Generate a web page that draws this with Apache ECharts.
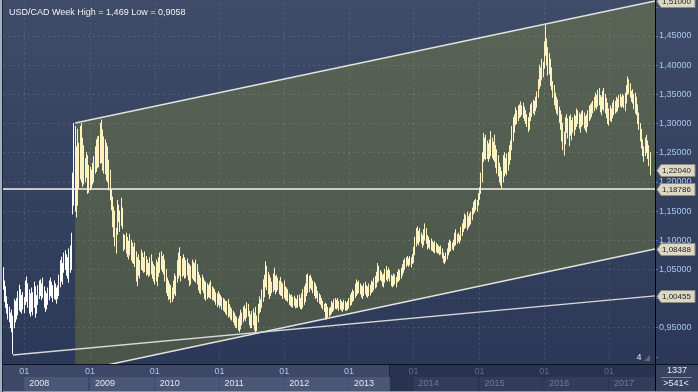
<!DOCTYPE html>
<html><head><meta charset="utf-8">
<script src="https://cdn.jsdelivr.net/npm/echarts@6/dist/echarts.min.js"></script>
<style>
html,body{margin:0;padding:0;}
body{width:698px;height:392px;overflow:hidden;background:linear-gradient(to bottom,#3f4c68 0px,#2b3857 365px,#2b3857 392px);}
#chart{width:698px;height:392px;}
</style></head><body><div id="chart"></div>
<script>
const FONT = '"Liberation Sans", Arial, sans-serif';
const axisStart = '2007-09-05';
const weekCount = 525;

const highs = [
1.053,1.030,1.020,1.003,0.990,0.985,0.975,0.980,0.970,0.998,
0.995,1.000,1.012,1.023,1.015,1.005,1.010,1.002,1.030,1.037,
1.025,1.015,1.008,1.018,1.010,1.028,1.020,1.005,1.022,1.030,
1.032,1.025,1.035,1.020,1.012,1.008,1.018,1.030,1.035,1.028,
1.022,1.030,1.025,1.018,1.022,1.040,1.065,1.071,1.060,1.078,
1.082,1.075,1.070,1.085,1.090,1.112,1.215,1.300,1.295,1.260,
1.290,1.266,1.295,1.300,1.275,1.262,1.240,1.250,1.245,1.228,
1.225,1.220,1.232,1.243,1.260,1.272,1.277,1.278,1.300,1.306,
1.289,1.277,1.272,1.266,1.260,1.237,1.220,1.186,1.174,1.157,
1.150,1.120,1.168,1.160,1.150,1.172,1.155,1.110,1.108,1.112,
1.105,1.098,1.110,1.100,1.095,1.088,1.095,1.080,1.070,1.075,
1.065,1.083,1.078,1.070,1.080,1.072,1.066,1.060,1.070,1.075,
1.063,1.058,1.055,1.066,1.062,1.070,1.078,1.080,1.072,1.075,
1.066,1.050,1.035,1.030,1.025,1.022,1.018,1.030,1.042,1.038,
1.065,1.078,1.087,1.072,1.068,1.075,1.070,1.065,1.068,1.060,
1.058,1.055,1.066,1.062,1.060,1.066,1.058,1.045,1.040,1.035,
1.040,1.035,1.030,1.028,1.025,1.022,1.026,1.030,1.020,1.018,
1.015,1.010,1.008,1.012,1.008,1.005,1.002,1.000,0.998,0.995,
0.995,0.998,0.990,0.985,0.982,0.978,0.975,0.970,0.968,0.965,
0.970,0.980,0.975,0.985,0.988,0.982,0.993,0.990,0.978,0.972,
0.978,0.982,0.975,0.985,0.970,0.990,1.003,0.998,1.015,1.032,
1.040,1.063,1.055,1.045,1.040,1.035,1.028,1.042,1.052,1.038,
1.040,1.035,1.030,1.036,1.028,1.025,1.030,1.020,1.018,1.015,
1.008,1.005,1.006,1.002,1.004,1.000,0.998,1.005,1.006,1.000,
1.008,1.015,1.020,1.025,1.040,1.042,1.038,1.040,1.035,1.030,
1.028,1.025,1.020,1.012,1.008,1.005,1.000,0.995,0.990,0.992,
0.990,0.985,0.983,0.985,0.995,0.992,0.998,1.000,0.997,1.000,
0.995,0.998,0.995,0.993,0.997,0.995,0.992,0.995,1.000,1.006,
1.010,1.015,1.012,1.025,1.032,1.028,1.030,1.025,1.022,1.020,
1.025,1.028,1.022,1.020,1.025,1.023,1.030,1.028,1.035,1.038,
1.045,1.060,1.055,1.048,1.045,1.040,1.042,1.050,1.055,1.048,
1.052,1.048,1.040,1.038,1.042,1.040,1.036,1.045,1.050,1.048,
1.052,1.058,1.065,1.068,1.070,1.072,1.068,1.072,1.070,1.075,
1.088,1.105,1.120,1.123,1.115,1.120,1.112,1.108,1.118,1.128,
1.120,1.108,1.105,1.100,1.102,1.098,1.095,1.098,1.095,1.092,
1.090,1.088,1.090,1.085,1.078,1.072,1.078,1.085,1.095,1.100,
1.098,1.095,1.100,1.112,1.118,1.110,1.112,1.108,1.122,1.128,
1.135,1.145,1.142,1.148,1.140,1.145,1.148,1.155,1.165,1.168,
1.170,1.168,1.180,1.190,1.215,1.250,1.283,1.275,1.280,1.270,
1.265,1.272,1.286,1.275,1.268,1.280,1.262,1.255,1.245,1.232,
1.225,1.218,1.245,1.250,1.240,1.248,1.250,1.262,1.270,1.295,
1.310,1.315,1.327,1.322,1.330,1.332,1.337,1.330,1.335,1.328,
1.322,1.315,1.310,1.318,1.332,1.335,1.340,1.338,1.345,1.354,
1.375,1.400,1.395,1.410,1.405,1.440,1.469,1.445,1.430,1.420,
1.410,1.395,1.372,1.365,1.352,1.345,1.340,1.328,1.322,1.315,
1.300,1.285,1.310,1.315,1.308,1.312,1.315,1.305,1.310,1.315,
1.312,1.325,1.322,1.318,1.315,1.320,1.322,1.318,1.312,1.315,
1.322,1.330,1.332,1.335,1.338,1.345,1.352,1.348,1.357,1.360,
1.348,1.345,1.355,1.360,1.350,1.343,1.335,1.325,1.330,1.325,
1.335,1.340,1.338,1.345,1.342,1.348,1.350,1.345,1.350,1.347,
1.352,1.365,1.380,1.375,1.368,1.355,1.358,1.350,1.352,1.345,
1.332,1.318,1.300,1.290,1.272,1.260,1.275,1.280,1.270,1.262,1.250
];
const lows = [
1.016,0.995,0.985,0.975,0.965,0.960,0.950,0.943,0.9058,0.950,
0.960,0.965,0.972,0.980,0.978,0.975,0.982,0.976,0.990,0.995,
0.985,0.975,0.970,0.978,0.972,0.985,0.968,0.975,0.990,1.000,
1.005,0.998,1.002,0.985,0.978,0.982,0.990,0.998,1.005,1.002,
0.995,1.000,0.998,0.992,1.000,1.005,1.020,1.030,1.025,1.045,
1.050,1.040,1.035,1.028,1.045,1.050,1.145,1.160,1.150,1.140,
1.160,1.190,1.205,1.200,1.192,1.196,1.200,1.208,1.180,1.182,
1.186,1.190,1.196,1.200,1.215,1.218,1.224,1.226,1.232,1.233,
1.220,1.215,1.214,1.203,1.200,1.186,1.169,1.152,1.123,1.106,
1.090,1.078,1.110,1.132,1.115,1.125,1.120,1.082,1.085,1.078,
1.072,1.068,1.075,1.066,1.062,1.060,1.055,1.030,1.022,1.040,
1.035,1.050,1.048,1.045,1.046,1.040,1.042,1.038,1.040,1.042,
1.035,1.030,1.025,1.030,1.022,1.038,1.045,1.050,1.046,1.042,
1.030,1.010,1.005,0.998,1.000,0.993,0.995,1.000,1.008,1.005,
1.028,1.035,1.040,1.030,1.038,1.040,1.035,1.036,1.040,1.032,
1.022,1.025,1.035,1.032,1.030,1.028,1.025,1.015,1.010,1.008,
1.015,1.010,1.000,0.997,1.000,1.003,1.002,1.000,0.998,0.998,
0.995,0.990,0.986,0.990,0.985,0.988,0.982,0.980,0.978,0.975,
0.972,0.968,0.970,0.965,0.963,0.960,0.955,0.951,0.950,0.946,
0.943,0.948,0.955,0.960,0.965,0.962,0.968,0.970,0.955,0.950,
0.950,0.955,0.946,0.943,0.945,0.960,0.975,0.978,0.985,0.995,
1.003,1.020,1.015,1.008,1.000,1.005,1.010,1.012,1.015,1.008,
1.012,1.015,1.008,1.006,1.005,1.000,1.002,0.998,0.997,0.995,
0.990,0.988,0.986,0.985,0.988,0.984,0.985,0.985,0.987,0.983,
0.982,0.985,0.990,0.995,1.005,1.010,1.012,1.018,1.015,1.010,
1.005,1.000,1.002,0.995,0.992,0.990,0.985,0.982,0.978,0.965,
0.965,0.968,0.970,0.972,0.975,0.978,0.980,0.983,0.982,0.984,
0.980,0.982,0.980,0.978,0.982,0.980,0.980,0.981,0.984,0.988,
0.990,0.995,0.997,1.002,1.005,1.008,1.010,1.008,1.003,1.000,
1.005,1.008,1.004,1.002,1.005,1.006,1.010,1.012,1.015,1.018,
1.020,1.028,1.030,1.032,1.030,1.022,1.020,1.028,1.032,1.030,
1.035,1.030,1.022,1.020,1.022,1.025,1.020,1.028,1.030,1.032,
1.035,1.040,1.045,1.050,1.055,1.058,1.055,1.058,1.054,1.060,
1.062,1.075,1.090,1.095,1.092,1.098,1.095,1.088,1.092,1.100,
1.095,1.085,1.088,1.085,1.083,1.082,1.080,1.078,1.080,1.078,
1.078,1.075,1.076,1.070,1.062,1.060,1.064,1.068,1.075,1.080,
1.082,1.085,1.083,1.090,1.092,1.095,1.098,1.095,1.100,1.108,
1.115,1.120,1.122,1.118,1.122,1.125,1.128,1.135,1.145,1.148,
1.152,1.150,1.160,1.170,1.180,1.200,1.235,1.240,1.238,1.240,
1.235,1.240,1.245,1.242,1.238,1.235,1.225,1.215,1.210,1.200,
1.195,1.190,1.200,1.210,1.215,1.212,1.220,1.230,1.238,1.255,
1.270,1.285,1.298,1.300,1.305,1.310,1.312,1.315,1.310,1.305,
1.300,1.295,1.286,1.290,1.305,1.312,1.318,1.315,1.322,1.328,
1.345,1.360,1.365,1.375,1.380,1.395,1.417,1.400,1.383,1.385,
1.365,1.358,1.345,1.332,1.325,1.318,1.315,1.302,1.290,1.270,
1.255,1.246,1.265,1.285,1.275,1.262,1.280,1.272,1.285,1.280,
1.290,1.295,1.300,1.292,1.285,1.295,1.298,1.292,1.288,1.285,
1.295,1.305,1.308,1.312,1.318,1.322,1.328,1.325,1.330,1.332,
1.320,1.315,1.325,1.322,1.318,1.310,1.300,1.297,1.305,1.303,
1.310,1.315,1.318,1.320,1.322,1.328,1.330,1.328,1.330,1.327,
1.322,1.335,1.350,1.352,1.345,1.338,1.335,1.325,1.318,1.315,
1.300,1.290,1.270,1.258,1.245,1.235,1.245,1.250,1.240,1.228,1.212
];
const lastClose = 1.2204;
const hLineLevel = 1.18786;
const upperLine = [[58, 1.3009], [524, 1.5100]];
const lowerLine = [[58, 0.8745], [524, 1.08488]];
const baseLine  = [[8, 0.9030], [524, 1.00455]];
const cornerTexts = ['1337', '>541<'];
const pageLabel = '4';

const categories = [];
const t0 = new Date(axisStart + 'T00:00:00Z').getTime();
for (let i = 0; i < weekCount; i++) categories.push(new Date(t0 + i * 7 * 86400000).toISOString().slice(0, 10));
const yearStart = new Set();
for (let i = 1; i < weekCount; i++) if (categories[i].slice(0, 4) !== categories[i - 1].slice(0, 4)) yearStart.add(i);
const lastYear = +categories[weekCount - 1].slice(0, 4);

const channelStart = upperLine[0][0];
const fmt5 = v => v.toFixed(5).replace('.', ',');
const fmtN = v => String(v).replace('.', ',');
const maxHigh = Math.max(...highs), minLow = Math.min(...lows);
const barData = highs.map((h, i) => [i, lows[i], h]);
const tagData = [upperLine[1][1], lastClose, hLineLevel, lowerLine[1][1], baseLine[1][1]].map(v => [weekCount - 1, v]);

const hidden = 'rgba(0,0,0,0)', gcol = 'rgba(255,255,255,0.13)';
const ySplitColors = [hidden, hidden, gcol, gcol, gcol, gcol, gcol, gcol, gcol, gcol, gcol, gcol, gcol, hidden, hidden];

const boxStyle = (color, bg, w) => ({color: color, backgroundColor: bg, width: w, height: 14, lineHeight: 14, padding: [0, 0, 0, 5], fontSize: 9, fontFamily: FONT});

const chart = echarts.init(document.getElementById('chart'), null, {renderer: 'canvas'});
chart.setOption({
  backgroundColor: 'transparent',
  animation: false,
  title: {text: 'USD/CAD Week High = ' + fmtN(maxHigh) + ' Low = ' + fmtN(minLow), left: 4, top: 3,
    textStyle: {color: '#eef0f4', fontSize: 9, fontWeight: 'normal', fontFamily: FONT}},
  grid: [
    {left: 3, right: 43, top: -22.34, height: 408.38, outerBoundsMode: 'none', containLabel: false},
    {left: 3, right: 43, top: 365, height: 27, outerBoundsMode: 'none', containLabel: false}
  ],
  xAxis: [
    {type: 'category', gridIndex: 0, data: categories, boundaryGap: false,
      axisLine: {show: false}, axisTick: {show: false}, axisLabel: {show: false},
      splitLine: {show: true, interval: (i) => yearStart.has(i), lineStyle: {type: [2, 3], color: gcol, width: 1}}},
    {type: 'category', gridIndex: 1, data: categories, boundaryGap: false, position: 'top', z: 60,
      axisLine: {show: false}, axisTick: {show: false}, splitLine: {show: false},
      axisLabel: {inside: true, margin: 7, interval: (i) => yearStart.has(i), align: 'center', verticalAlign: 'middle',
        formatter: v => (+v.slice(0, 4) <= 2013 ? '{b|01}' : '{d|01}'),
        rich: {b: {color: '#a6c6ee', fontSize: 9, fontFamily: FONT}, d: {color: '#5a6b8a', fontSize: 9, fontFamily: FONT}}}},
    {type: 'category', gridIndex: 1, data: categories, boundaryGap: false, position: 'bottom', z: 60,
      axisLine: {show: false}, axisTick: {show: false}, splitLine: {show: false},
      axisLabel: {inside: true, margin: 8, interval: (i) => yearStart.has(i), align: 'left', verticalAlign: 'middle',
        formatter: v => {
          const y = +v.slice(0, 4);
          if (y < 2013) return '{b|' + y + '}';
          if (y === 2013) return '{s|' + y + '}';
          if (y === lastYear) return '{e|' + y + '}';
          return '{d|' + y + '}';
        },
        rich: {
          b: boxStyle('#e4e8f0', '#4a5776', 59),
          s: boxStyle('#e4e8f0', '#4a5776', 36),
          d: boxStyle('#6d7b95', '#313d5a', 59),
          e: boxStyle('#6d7b95', '#313d5a', 41)
        }}}
  ],
  yAxis: [
    {type: 'value', gridIndex: 0, position: 'right', min: 0.85, max: 1.55, interval: 0.05,
      axisLine: {show: true, lineStyle: {color: '#000', width: 1}},
      axisTick: {show: true, length: 3, lineStyle: {color: '#4f7fcc'}},
      axisLabel: {margin: 4, color: '#a9c6ec', fontSize: 9, fontFamily: FONT,
        formatter: v => (v < 0.93 || v > 1.47) ? '' : fmt5(v)},
      splitLine: {show: true, lineStyle: {type: [2, 3], color: ySplitColors, width: 1}}},
    {type: 'value', gridIndex: 1, show: false}
  ],
  series: [
    {type: 'custom', name: 'channel', xAxisIndex: 0, yAxisIndex: 0, z: -1, silent: true, data: [[0, 0]],
      renderItem: (params, api) => {
        const pts = [upperLine[0], upperLine[1], lowerLine[1], lowerLine[0]].map(p => api.coord(p));
        return {type: 'polygon', shape: {points: pts},
          style: {fill: new echarts.graphic.LinearGradient(0, 0, 0, 1, [{offset: 0, color: '#596457'}, {offset: 1, color: '#4a5448'}])}};
      }},
    {type: 'custom', name: 'bars', xAxisIndex: 0, yAxisIndex: 0, z: 3, silent: true, data: barData,
      renderItem: (params, api) => {
        const i = api.value(0);
        const lo = api.coord([i, api.value(1)]);
        const hi = api.coord([i, api.value(2)]);
        const x = Math.floor(lo[0]) + 0.5;
        return {type: 'line', shape: {x1: x, y1: lo[1] + 0.5, x2: x, y2: hi[1] - 0.5},
          style: {stroke: i < channelStart ? '#ffffff' : '#fdf2c2', lineWidth: 1}};
      }},
    {type: 'line', name: 'upper', data: upperLine, symbol: 'none', z: 5, silent: true, lineStyle: {color: '#e2e2de', width: 1.5}},
    {type: 'line', name: 'lower', data: lowerLine, symbol: 'none', z: 5, silent: true, lineStyle: {color: '#e2e2de', width: 1.5}},
    {type: 'line', name: 'base', data: baseLine, symbol: 'none', z: 5, silent: true, lineStyle: {color: '#d8d8d8', width: 1.5}},
    {type: 'line', name: 'level', data: [[0, hLineLevel], [weekCount - 1, hLineLevel]], symbol: 'none', z: 5, silent: true, lineStyle: {color: '#f4f4f0', width: 1.5}},
    {type: 'custom', name: 'tags', xAxisIndex: 0, yAxisIndex: 0, z: 70, clip: false, silent: true, data: tagData,
      renderItem: (params, api) => {
        const v = api.value(1);
        const p = api.coord([api.value(0), v]);
        const x = Math.round(p[0]), y = Math.round(p[1]) + 0.5;
        return {type: 'group', children: [
          {type: 'polygon', shape: {points: [[x + 2, y], [x + 6, y - 6], [x + 40, y - 6], [x + 40, y + 6], [x + 6, y + 6]]},
            style: {fill: '#dcd8c3', stroke: '#8e8c80', lineWidth: 1}},
          {type: 'text', style: {x: x + 7, y: y, text: fmt5(v), fill: '#1e1e1e', font: '8px ' + FONT, align: 'left', verticalAlign: 'middle'}}
        ]};
      }}
  ],
  graphic: {elements: [
    {type: 'rect', shape: {x: 0, y: 364, width: 698, height: 28}, style: {fill: '#3c4865'}, z: 50, silent: true},
    {type: 'rect', shape: {x: 389, y: 365, width: 266, height: 27}, style: {fill: '#28344f'}, z: 50, silent: true},
    {type: 'rect', shape: {x: 656, y: 365, width: 42, height: 27}, style: {fill: '#38445f'}, z: 62, silent: true},
    {type: 'line', shape: {x1: 0, y1: 364.5, x2: 698, y2: 364.5}, style: {stroke: '#0d121c', lineWidth: 1}, z: 63, silent: true},
    {type: 'line', shape: {x1: 655.5, y1: 0, x2: 655.5, y2: 392}, style: {stroke: '#000000', lineWidth: 1}, z: 63, silent: true},
    {type: 'line', shape: {x1: 0, y1: 391.5, x2: 698, y2: 391.5}, style: {stroke: '#8e9ab0', lineWidth: 1}, z: 63, silent: true},
    {type: 'line', shape: {x1: 389.5, y1: 365, x2: 389.5, y2: 392}, style: {stroke: '#1d2740', lineWidth: 1}, z: 55, silent: true},
    {type: 'rect', shape: {x: 0, y: 0, width: 2, height: 392}, style: {fill: '#a3afc2'}, z: 63, silent: true},
    {type: 'rect', shape: {x: 2, y: 0, width: 1, height: 392}, style: {fill: '#1c2436'}, z: 63, silent: true},
    {type: 'text', style: {x: 677, y: 371, text: cornerTexts[0], fill: '#e4e9f2', font: '9px ' + FONT, align: 'center', verticalAlign: 'middle'}, z: 65, silent: true},
    {type: 'line', shape: {x1: 661, y1: 377.5, x2: 692, y2: 377.5}, style: {stroke: '#7c889e', lineWidth: 1}, z: 65, silent: true},
    {type: 'text', style: {x: 676, y: 384, text: cornerTexts[1], fill: '#e4e9f2', font: '9px ' + FONT, align: 'center', verticalAlign: 'middle'}, z: 65, silent: true},
    {type: 'text', style: {x: 639, y: 358, text: pageLabel, fill: '#e8e8e8', font: '9px ' + FONT, align: 'center', verticalAlign: 'middle'}, z: 60, silent: true},
    {type: 'polygon', shape: {points: [[644, 361], [650, 355], [650, 361]]}, style: {fill: '#5d6984'}, z: 60, silent: true}
  ]}
});
</script></body></html>
